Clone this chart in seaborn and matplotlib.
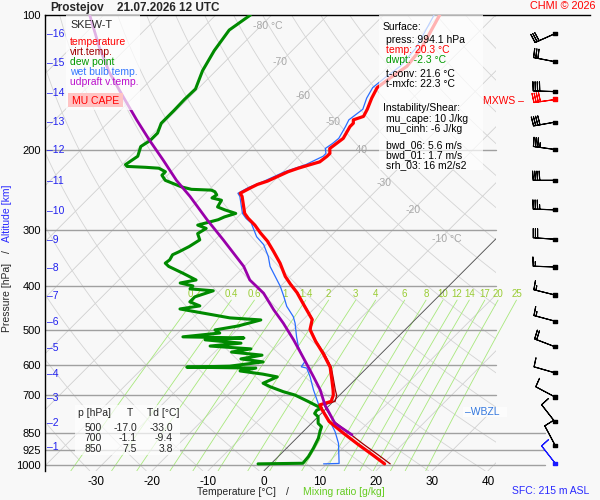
import numpy as np
import matplotlib
matplotlib.use("Agg")
import matplotlib.pyplot as plt
from matplotlib.patches import Rectangle
from matplotlib.ticker import NullLocator
import seaborn as sns

# --- sounding Prostejov 21.07.2026 12 UTC ---
temp_p = [994.1, 950, 900, 850, 800, 750, 735, 722, 700, 681, 647, 606, 566, 531, 500,
          475, 440, 414, 397, 381, 356, 335, 318, 305, 293, 283, 276, 253, 249, 242,
          238, 234, 223, 219, 215, 212, 206, 203, 198, 193, 188, 177, 174, 171, 168,
          162, 153, 145, 138, 130, 119, 110, 100]
temp_t = [20.3, 16.6, 12.1, 7.5, 2.8, -0.8, -1.8, -0.4, -1.1, -2.1, -4.1, -6.7, -10.3, -13.9, -17.0,
          -18.4, -22.6, -25.9, -28.5, -30.9, -34.2, -37.5, -40.4, -43.1, -45.5, -47.9, -49.4, -52.9, -53.8, -52.9,
          -52.3, -51.1, -49.1, -47.9, -46.4, -45.2, -44.9, -44.9, -45.8, -45.5, -45.2, -46.1, -46.1, -46.7, -45.5,
          -46.1, -47.3, -48.2, -47.6, -46.7, -47.3, -48.5, -50.0]

vt_p = [994.1, 950, 900, 850, 800, 750, 735, 722, 700, 681, 647, 606, 566, 531, 500, 475, 440, 414, 397]
vt_t = [21.3, 17.6, 13.1, 8.5, 3.7, 0.0, -1.0, 0.3, -0.5, -1.7, -3.8, -6.5, -10.1, -13.8, -16.9,
        -18.3, -22.5, -25.8, -28.4]

wb_p = [994.1, 992, 895, 843, 796, 755, 735, 681, 636, 609, 605, 589, 546, 519, 484,
        468, 444, 422, 401, 362, 344, 324, 311, 290, 283, 276, 253, 249, 242, 234,
        223, 215, 206, 203, 198, 193, 188, 177, 171, 162, 153, 145, 138, 130, 119, 110, 100]
wb_t = [9.4, 12.1, 8.4, 5.7, 2.7, -0.3, -2.0, -5.6, -8.6, -10.7, -11.9, -12.2, -16.0, -18.1, -20.8,
        -22.3, -25.3, -27.6, -30.0, -35.4, -37.5, -40.4, -43.1, -46.5, -48.3, -49.8, -53.3, -54.2, -53.4, -51.7,
        -49.7, -47.2, -45.6, -45.6, -46.6, -46.2, -46.0, -46.9, -47.5, -46.9, -48.2, -49.0, -48.6, -47.9, -48.3,
        -49.5, -51.0]

dp_p = [994.1, 991, 958, 918, 872, 843, 822, 808, 781, 768,
        755, 748, 723, 699, 687, 670, 658, 637, 628, 618,
        609, 606, 603, 590, 581, 570, 561, 552, 544, 536,
        527, 522, 519, 509, 501, 491, 476, 471, 450, 443,
        434, 423, 410, 406, 400, 394, 388, 375, 362, 356,
        350, 341, 336, 327, 316, 306, 298, 293, 285, 281,
        276, 271, 267, 258, 255, 251, 247, 245, 244, 241,
        233, 227, 223, 219, 218, 217, 215, 206, 196, 190,
        183, 174, 168, 163, 154, 146, 133, 120, 108, 100]
dp_t = [-2.3, 5.6, 5.4, 4.8, 3.9, 3.0, 2.4, 1.2, 0.0, -1.2,
        -1.4, -0.9, -4.4, -8.0, -10.7, -13.9, -15.8, -14.4, -17.5, -22.1,
        -19.8, -32.3, -24.8, -19.6, -24.1, -21.0, -27.0, -24.1, -31.9, -26.9,
        -33.9, -27.3, -38.4, -32.5, -33.9, -30.5, -27.5, -33.4, -43.9, -40.9,
        -43.4, -43.4, -41.2, -45.7, -45.7, -48.5, -46.2, -49.7, -53.5, -54.7,
        -54.5, -54.9, -54.3, -53.4, -52.7, -54.2, -53.6, -55.7, -53.0, -52.4,
        -51.0, -53.6, -55.4, -55.9, -58.0, -57.7, -58.6, -59.5, -63.2, -65.4,
        -69.5, -71.0, -71.0, -72.8, -75.3, -78.8, -79.4, -78.7, -79.9, -79.3,
        -79.3, -80.4, -80.4, -80.4, -80.5, -80.4, -82.4, -83.9, -84.9, -83.8]

parcel_p = [857, 808, 735, 681, 636, 575, 527, 484, 452, 415, 388, 362, 316, 285, 253,
            233, 210, 190, 171, 152, 134, 118, 100]
parcel_t = [9.3, 4.2, -0.9, -4.4, -8.0, -13.4, -18.1, -22.9, -27.0, -31.8, -36.6, -40.1, -48.5, -55.0, -62.2,
            -67.5, -73.5, -79.4, -85.4, -91.9, -98.8, -105.0, -112.5]

# wind every km (sfc .. 16 km), knots
wind_p = [990, 903, 802, 706, 624, 546, 479, 419, 363, 315, 271, 233, 199, 173, 148, 127, 110]
wind_dir = [322, 332, 322, 298, 286, 291, 285, 284, 272, 274, 272, 270, 278, 260, 272, 281, 246]
wind_spd = [10, 10, 10, 10, 10, 20, 15, 15, 15, 30, 35, 40, 35, 40, 40, 30, 30]
mxws_p, mxws_dir, mxws_spd = 154, 262, 40

alt_km = list(range(1, 17))
alt_p = [912, 807, 710, 628, 549, 480, 421, 365, 316, 273, 234, 200, 173, 149, 128, 110]

p_ticks = [100, 200, 300, 400, 500, 600, 700, 850, 925, 1000]
t_ticks = [-30, -20, -10, 0, 10, 20, 30, 40]
iso_lab_t = [-80, -70, -60, -50, -40, -30, -20, -10]
iso_lab_p = [106, 127.5, 151, 173, 200, 236, 271, 315]
mr_vals = [0.2, 0.4, 0.6, 1, 1.4, 2, 3, 4, 6, 8, 10, 12, 14, 17, 20, 25]

# --- geometry ---
K = 195.4 / 5.6          # degC of skew per unit ln(p)
P_BOT, P_TOP = 1030.0, 100.0
X_MIN, X_MAX = -219 / 5.6, 326 / 5.6
X_GRID = 232 / 5.6       # right end of the diagram grid
X_LOW = 281 / 5.6        # lowest isobars run a bit further
X_BARB = 291 / 5.6

BG = "#f8f8f8"
RED, DRED, GREEN, BLUE, PURP = "#ff0000", "#990000", "#008a00", "#2a6dff", "#9900aa"
MRCOL = "#a8e87c"
BARB_SIZES = dict(spacing=0.1, height=0.42, width=0.06)


def skew(t, p):
    return np.asarray(t, float) + K * np.log(P_BOT / np.asarray(p, float))


sns.set_theme(style="white")
plt.rcParams["font.family"] = ["Liberation Sans", "DejaVu Sans"]

fig = plt.figure(figsize=(6, 5), dpi=100, facecolor=BG)
ax = fig.add_axes([45 / 600, 1 - 470.8 / 500, 545 / 600, 455.8 / 500])
ax.set_facecolor(BG)
ax.set_yscale("log")
ax.set_ylim(P_BOT, P_TOP)
ax.set_xlim(X_MIN, X_MAX)

clip = Rectangle((X_MIN, P_TOP), X_GRID - X_MIN, P_BOT - P_TOP, transform=ax.transData,
                 fc="none", ec="none")
ax.add_patch(clip)

pp = np.geomspace(P_TOP, P_BOT, 120)
# isotherms
for t in range(-130, 50, 10):
    ln, = ax.plot(skew(t, pp), pp, color="#d0d0d0", lw=0.6, zorder=1)
    ln.set_clip_path(clip)
ln, = ax.plot(skew(0, pp), pp, color="#555555", lw=0.6, zorder=1.5)
ln.set_clip_path(clip)
# dry adiabats
for th in range(230, 470, 10):
    ta = th * (pp / 1000.0) ** 0.286 - 273.15
    ln, = ax.plot(skew(ta, pp), pp, color="#d4d4d4", lw=0.6, zorder=1)
    ln.set_clip_path(clip)
# mixing ratio lines
pm = np.geomspace(430, P_BOT, 40)
for w in mr_vals:
    e = w * pm / (622.0 + w)
    a = np.log(e / 6.112)
    td = 243.5 * a / (17.67 - a)
    ax.plot(skew(td, pm), pm, color=MRCOL, lw=0.6, zorder=1.2)
    ax.text(skew(td[0], 430), 428, f"{w:g}", color="#99cc33", fontsize=7,
            ha="center", va="bottom", zorder=1.3)
# isobars
for p in p_ticks[1:]:
    xr = X_LOW if p >= 850 else X_GRID
    ax.plot([X_MIN, xr], [p, p], color="#a0a0a0", lw=1.0, zorder=1.4)
# isotherm labels
for t, p in zip(iso_lab_t, iso_lab_p):
    s = f"{t} °C" if t in (-80, -10) else f"{t}"
    ax.text(skew(t, p) - 1.3, p, s, color="#a8a8a8", fontsize=7.5, ha="left", va="center", zorder=1.3)

# profiles
sns.lineplot(x=skew(wb_t, wb_p), y=wb_p, sort=False, estimator=None, color=BLUE, lw=0.9, ax=ax, zorder=3)
sns.lineplot(x=skew(dp_t, dp_p), y=dp_p, sort=False, estimator=None, color=GREEN, lw=2.2, ax=ax, zorder=4)
sns.lineplot(x=skew(vt_t, vt_p), y=vt_p, sort=False, estimator=None, color=DRED, lw=0.9, ax=ax, zorder=4.5)
sns.lineplot(x=skew(temp_t, temp_p), y=temp_p, sort=False, estimator=None, color=RED, lw=2.3, ax=ax, zorder=5)
sns.lineplot(x=skew(parcel_t, parcel_p), y=parcel_p, sort=False, estimator=None, color=PURP, lw=2.0, ax=ax, zorder=6)

# wind barbs
wd = np.radians(wind_dir)
ws = np.asarray(wind_spd, float)
u, v = -ws * np.sin(wd), -ws * np.cos(wd)
cols = ["#1a1aff"] + ["black"] * (len(wind_p) - 1)
ax.barbs(np.full(len(wind_p), X_BARB), wind_p, u, v, length=5.6, pivot="tip", barbcolor=cols,
         lw=0.8, sizes=BARB_SIZES, zorder=7, clip_on=False)
md = np.radians(mxws_dir)
ax.barbs([X_BARB], [mxws_p], [-mxws_spd * np.sin(md)], [-mxws_spd * np.cos(md)], length=5.6,
         pivot="tip", barbcolor="red", lw=0.8, sizes=BARB_SIZES, zorder=7, clip_on=False)
ax.scatter(np.full(len(wind_p), X_BARB), wind_p, marker="s", s=5, c=cols, zorder=8, clip_on=False)
ax.scatter([X_BARB], [mxws_p], marker="s", s=5, c="red", zorder=8, clip_on=False)

# altitude marks
for km, p in zip(alt_km, alt_p):
    ax.text(X_MIN + 0.35, p, f"–{km}", color="#2222ee", fontsize=7.5, ha="left", va="center", zorder=2)

# axes styling
for side in ("right", "bottom"):
    ax.spines[side].set_visible(False)
for side in ("left", "top"):
    ax.spines[side].set_color("black")
    ax.spines[side].set_linewidth(1.0)
ax.set_yticks(p_ticks)
ax.set_yticklabels([str(p) for p in p_ticks])
ax.yaxis.set_minor_locator(NullLocator())
ax.set_xticks(t_ticks)
ax.set_xticklabels([str(t) for t in t_ticks])
ax.tick_params(axis="y", length=0, pad=3, labelsize=8, colors="black")
ax.tick_params(axis="x", length=0, pad=4, labelsize=8.5, colors="black")
ax.grid(False)


# --- figure annotations (pixel positions) ---
def ftext(x, y, s, **kw):
    kw.setdefault("va", "center")
    kw.setdefault("fontsize", 7.5)
    kw.setdefault("zorder", 6)
    fig.text(x / 600, 1 - y / 500, s, **kw)


def fbox(x0, y0, x1, y1, fc="white", alpha=0.7):
    fig.add_artist(Rectangle((x0 / 600, 1 - y1 / 500), (x1 - x0) / 600, (y1 - y0) / 500,
                             transform=fig.transFigure, fc=fc, ec="none", alpha=alpha, zorder=5))


ftext(50, 8, "Prostejov", fontsize=8.5, weight="bold")
ftext(117, 8, "21.07.2026 12 UTC", fontsize=8.5, weight="bold")
ftext(596, 6, "CHMI © 2026", color="red", fontsize=7.8, ha="right")

fbox(66, 15, 140, 110)
ftext(70, 25, "SKEW-T", fontsize=7.8)
ftext(70, 42.3, "temperature", color=RED)
ftext(70, 52.3, "virt.temp.", color="#a00000")
ftext(70, 61.7, "dew point", color="#009900")
ftext(70, 71.7, "wet bulb temp.", color="#3377ff")
ftext(70, 81.7, "udpraft v.temp.", color="#bb11cc")
fbox(68, 93, 123, 107, fc="#ffc4c4", alpha=1.0)
ftext(95.5, 100.5, "MU CAPE", color=RED, ha="center")

fbox(379, 15, 483, 170)
surf = [(383, 27.3, "Surface:", "black"), (386, 40, "press: 994.1 hPa", "black"),
        (386, 50, "temp: 20.3 °C", RED), (386, 60, "dwpt: -2.3 °C", "#009900"),
        (386, 74, "t-conv: 21.6 °C", "black"), (386, 84.3, "t-mxfc: 22.3 °C", "black"),
        (383, 108.3, "Instability/Shear:", "black"), (386, 119.3, "mu_cape: 10 J/kg", "black"),
        (386, 129.3, "mu_cinh: -6 J/kg", "black"), (386, 145, "bwd_06: 5.6 m/s", "black"),
        (386, 155, "bwd_01: 1.7 m/s", "black"), (386, 165, "srh_03: 16 m2/s2", "black")]
for x, y, s, c in surf:
    ftext(x, y, s, color=c)

ftext(483, 101, "MXWS –", color=RED)

fbox(463, 407, 507, 417)
ftext(465, 412, "–WBZL", color="#3377dd")

fbox(75, 405, 180, 455)
ftext(78, 413, "p [hPa]")
ftext(127, 413, "T")
ftext(147, 413, "Td [°C]")
tab_p = ["500", "700", "850"]
tab_t = ["-17.0", "-1.1", "7.5"]
tab_td = ["-33.0", "-9.4", "3.8"]
for i, y in enumerate([428, 438, 449]):
    ftext(102, y, tab_p[i], ha="right")
    ftext(137, y, tab_t[i], ha="right")
    ftext(173, y, tab_td[i], ha="right")

ftext(197, 492, "Temperature [°C]")
ftext(286, 492, "/")
ftext(303, 492, "Mixing ratio [g/kg]", color="#66cc22")
ftext(512, 491, "SFC: 215 m ASL", color="#2a2aff")

ftext(7.5, 297, "Pressure [hPa]", rotation=90, ha="center")
ftext(7.5, 252, "/", rotation=90, ha="center")
ftext(7.5, 213, "Altitude [km]", rotation=90, ha="center", color="#2a2aff")

fig.savefig("out.png", dpi=100, facecolor=BG)
